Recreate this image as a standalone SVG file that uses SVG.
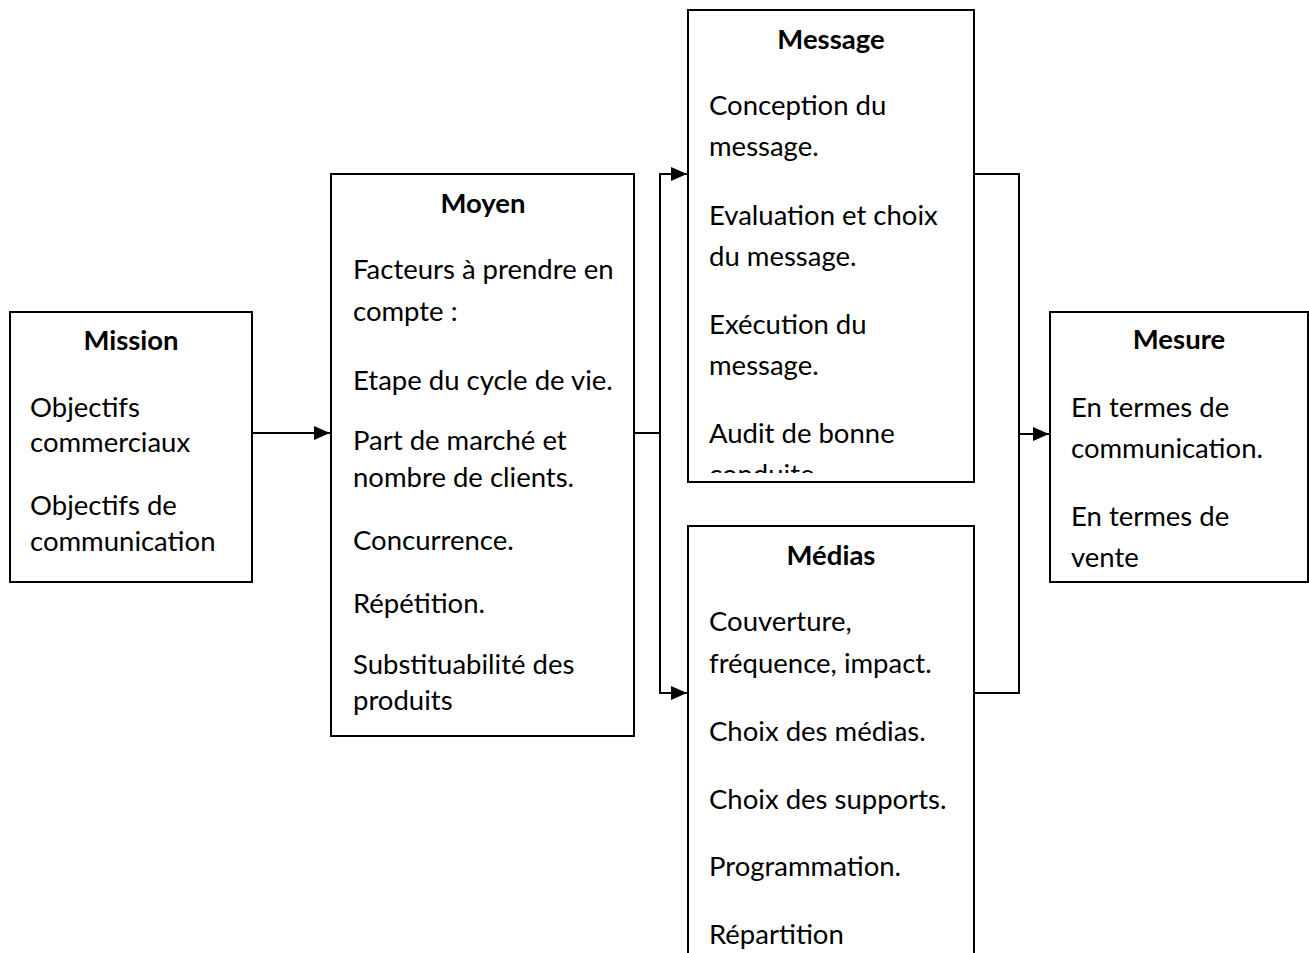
<svg xmlns="http://www.w3.org/2000/svg" width="1309" height="953" viewBox="0 0 1309 953">
<style>
.box{fill:#fff;stroke:#000;stroke-width:2}
.t{font-family:Lato,"Open Sans","Liberation Sans",sans-serif;font-size:27.5px;fill:#000}
.h{font-family:Lato,"Open Sans","Liberation Sans",sans-serif;font-size:27.5px;font-weight:bold;fill:#000;text-anchor:middle}
.c{fill:none;stroke:#000;stroke-width:2}
</style>
<defs>
<marker id="ar" markerUnits="userSpaceOnUse" markerWidth="17" markerHeight="15" refX="16" refY="7.5" orient="auto">
<path d="M0,0.5 L16,7.5 L0,14.5 Z" fill="#000"/>
</marker>
<clipPath id="cm"><rect x="688" y="10" width="286" height="463"/></clipPath>
</defs>
<rect width="1309" height="953" fill="#fff"/>
<g id="connectors">
<line class="c" x1="252" y1="433" x2="330" y2="433" marker-end="url(#ar)"/>
<polyline class="c" points="634,433 660,433"/>
<line class="c" x1="660" y1="174" x2="660" y2="693"/>
<line class="c" x1="659" y1="174" x2="687" y2="174" marker-end="url(#ar)"/>
<line class="c" x1="659" y1="693" x2="687" y2="693" marker-end="url(#ar)"/>
<polyline class="c" points="974,174 1019,174 1019,693 974,693"/>
<line class="c" x1="1019" y1="434" x2="1049" y2="434" marker-end="url(#ar)"/>
</g>
<g id="mission">
<rect class="box" x="10" y="312" width="242" height="270"/>
<text class="h" x="131" y="350">Mission</text>
<text class="t" x="30" y="417">Objectifs</text>
<text class="t" x="30" y="452">commerciaux</text>
<text class="t" x="30" y="515">Objectifs de</text>
<text class="t" x="30" y="551">communication</text>
</g>
<g id="moyen">
<rect class="box" x="331" y="174" width="303" height="562"/>
<text class="h" x="483" y="213">Moyen</text>
<text class="t" x="353" y="279">Facteurs à prendre en</text>
<text class="t" x="353" y="321">compte :</text>
<text class="t" x="353" y="390">Etape du cycle de vie.</text>
<text class="t" x="353" y="450">Part de marché et</text>
<text class="t" x="353" y="487">nombre de clients.</text>
<text class="t" x="353" y="550">Concurrence.</text>
<text class="t" x="353" y="613">Répétition.</text>
<text class="t" x="353" y="674">Substituabilité des</text>
<text class="t" x="353" y="710">produits</text>
</g>
<g id="message">
<rect class="box" x="688" y="10" width="286" height="472"/>
<text class="h" x="831" y="49">Message</text>
<g clip-path="url(#cm)">
<text class="t" x="709" y="115">Conception du</text>
<text class="t" x="709" y="156">message.</text>
<text class="t" x="709" y="225">Evaluation et choix</text>
<text class="t" x="709" y="266">du message.</text>
<text class="t" x="709" y="334">Exécution du</text>
<text class="t" x="709" y="375">message.</text>
<text class="t" x="709" y="443">Audit de bonne</text>
<text class="t" x="709" y="484">conduite</text>
</g>
</g>
<g id="medias">
<rect class="box" x="688" y="526" width="286" height="440"/>
<text class="h" x="831" y="565">Médias</text>
<text class="t" x="709" y="631">Couverture,</text>
<text class="t" x="709" y="673">fréquence, impact.</text>
<text class="t" x="709" y="741">Choix des médias.</text>
<text class="t" x="709" y="809">Choix des supports.</text>
<text class="t" x="709" y="876">Programmation.</text>
<text class="t" x="709" y="944">Répartition</text>
</g>
<g id="mesure">
<rect class="box" x="1050" y="312" width="258" height="270"/>
<text class="h" x="1179" y="349">Mesure</text>
<text class="t" x="1071" y="417">En termes de</text>
<text class="t" x="1071" y="458">communication.</text>
<text class="t" x="1071" y="526">En termes de</text>
<text class="t" x="1071" y="567">vente</text>
</g>
</svg>
